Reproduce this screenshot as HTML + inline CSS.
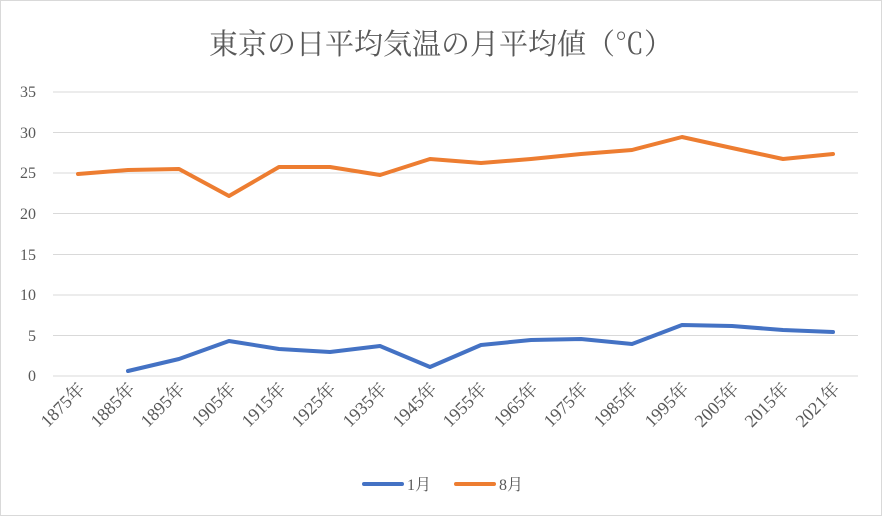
<!DOCTYPE html>
<html><head><meta charset="utf-8"><style>body{margin:0;background:#fff}svg{display:block}</style></head>
<body>
<svg width="882" height="516" xmlns="http://www.w3.org/2000/svg" font-family="'Liberation Serif','Noto Serif CJK SC',serif">
<rect x="0.5" y="0.5" width="881" height="515" fill="#fff" stroke="#d9d9d9"/>
<text x="441" y="54" text-anchor="middle" font-size="29" fill="#595959">東京の日平均気温の月平均値（℃）</text>
<g stroke="#d9d9d9" stroke-width="1">
<line x1="53" x2="858" y1="92" y2="92"/><line x1="53" x2="858" y1="132.5" y2="132.5"/><line x1="53" x2="858" y1="173" y2="173"/><line x1="53" x2="858" y1="213.5" y2="213.5"/><line x1="53" x2="858" y1="254.5" y2="254.5"/><line x1="53" x2="858" y1="295" y2="295"/><line x1="53" x2="858" y1="335.5" y2="335.5"/><line x1="53" x2="858" y1="376" y2="376"/>
</g>
<g font-size="16" fill="#595959" text-anchor="end">
<text x="36" y="97">35</text><text x="36" y="138">30</text><text x="36" y="178">25</text><text x="36" y="219">20</text><text x="36" y="260">15</text><text x="36" y="300">10</text><text x="36" y="341">5</text><text x="36" y="381">0</text>
</g>
<g font-size="18" fill="#595959" text-anchor="end">
<text transform="translate(86,390) rotate(-45)">1875年</text>
<text transform="translate(136,390) rotate(-45)">1885年</text>
<text transform="translate(186,390) rotate(-45)">1895年</text>
<text transform="translate(237,390) rotate(-45)">1905年</text>
<text transform="translate(287,390) rotate(-45)">1915年</text>
<text transform="translate(337,390) rotate(-45)">1925年</text>
<text transform="translate(388,390) rotate(-45)">1935年</text>
<text transform="translate(438,390) rotate(-45)">1945年</text>
<text transform="translate(488,390) rotate(-45)">1955年</text>
<text transform="translate(539,390) rotate(-45)">1965年</text>
<text transform="translate(589,390) rotate(-45)">1975年</text>
<text transform="translate(639,390) rotate(-45)">1985年</text>
<text transform="translate(690,390) rotate(-45)">1995年</text>
<text transform="translate(740,390) rotate(-45)">2005年</text>
<text transform="translate(790,390) rotate(-45)">2015年</text>
<text transform="translate(841,390) rotate(-45)">2021年</text>
</g>
<polyline fill="none" stroke="#ed7d31" stroke-width="4" stroke-linejoin="round" stroke-linecap="round"
points="78,174 128,170 179,169 229,196 279,167 330,167 380,175 430,159 481,163 531,159 581,154 632,150 682,137 732,148 783,159 833,154"/>
<polyline fill="none" stroke="#4472c4" stroke-width="4" stroke-linejoin="round" stroke-linecap="round"
points="128,371 179,359 229,341 279,349 330,352 380,346 430,367 481,345 531,340 581,339 632,344 682,325 732,326 783,330 833,332"/>
<line x1="364" x2="402" y1="484" y2="484" stroke="#4472c4" stroke-width="4" stroke-linecap="round"/>
<text x="407" y="490" font-size="16" fill="#595959">1月</text>
<line x1="456" x2="494" y1="484" y2="484" stroke="#ed7d31" stroke-width="4" stroke-linecap="round"/>
<text x="499" y="490" font-size="16" fill="#595959">8月</text>
</svg>
</body></html>
